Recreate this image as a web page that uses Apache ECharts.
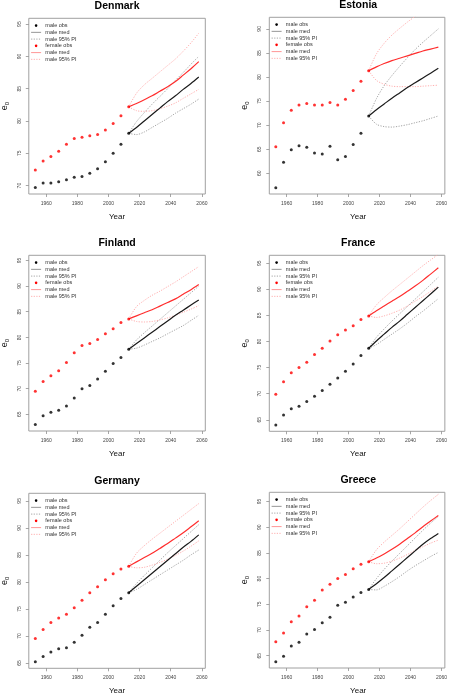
<!DOCTYPE html>
<html><head><meta charset="utf-8">
<script src="https://cdn.jsdelivr.net/npm/echarts@6/dist/echarts.min.js"></script>
<style>html,body{margin:0;padding:0;background:#fff}#c{width:450px;height:696px}</style>
</head><body><div id="c"></div>
<script>
// ---------- DATA ----------
const countries = ['Denmark', 'Estonia', 'Finland', 'France', 'Germany', 'Greece'];
const obsYears = [1953, 1958, 1963, 1968, 1973, 1978, 1983, 1988, 1993, 1998, 2003, 2008, 2013];
const projYears = [2013, 2018, 2023, 2028, 2033, 2038, 2043, 2048, 2053, 2058];
const xTicks = [1960, 1980, 2000, 2020, 2040, 2060];
const yTicksDenmark = [70, 75, 80, 85, 90, 95];
const yTicksEstonia = [60, 65, 70, 75, 80, 85, 90];
const yTicksOther = [65, 70, 75, 80, 85, 90, 95];
const legendLabels = ['male obs', 'male med', 'male 95% PI', 'female obs', 'male med', 'male 95% PI'];

// Denmark
const denmarkMaleObs   = [69.7, 70.4, 70.4, 70.6, 70.9, 71.3, 71.4, 71.9, 72.6, 73.7, 75.0, 76.4, 78.1];
const denmarkFemaleObs = [72.4, 73.8, 74.5, 75.3, 76.4, 77.3, 77.5, 77.7, 77.9, 78.6, 79.6, 80.8, 82.2];
const denmarkMaleMed   = [78.1, 79.0, 80.0, 81.0, 82.0, 83.0, 83.9, 84.9, 85.8, 86.8];
const denmarkMaleHi    = [78.1, 79.9, 81.3, 82.6, 83.8, 85.0, 86.3, 87.5, 88.8, 90.0];
const denmarkMaleLo    = [78.1, 77.9, 78.3, 79.0, 79.7, 80.4, 81.2, 81.9, 82.6, 83.4];
const denmarkFemaleMed = [82.2, 82.7, 83.3, 83.9, 84.6, 85.3, 86.1, 87.1, 88.1, 89.2];
const denmarkFemaleHi  = [82.2, 84.3, 85.6, 86.6, 87.6, 88.6, 89.6, 90.8, 92.1, 93.6];
const denmarkFemaleLo  = [82.2, 81.6, 81.5, 81.6, 81.9, 82.3, 82.8, 83.5, 84.2, 84.9];

// Estonia
const estoniaMaleObs   = [57.0, 62.3, 64.9, 65.7, 65.4, 64.2, 64.0, 65.6, 62.8, 63.5, 66.0, 68.3, 71.9];
const estoniaFemaleObs = [65.5, 70.5, 73.1, 74.2, 74.5, 74.2, 74.2, 74.7, 74.2, 75.4, 77.2, 79.1, 81.3];
const estoniaMaleMed   = [71.9, 73.2, 74.4, 75.6, 76.7, 77.8, 78.8, 79.8, 80.8, 81.8];
const estoniaMaleHi    = [71.9, 75.5, 78.2, 80.3, 82.2, 84.0, 85.7, 87.2, 88.6, 90.0];
const estoniaMaleLo    = [71.9, 70.2, 69.7, 69.6, 69.8, 70.1, 70.5, 70.9, 71.4, 71.9];
const estoniaFemaleMed = [81.3, 82.1, 82.8, 83.4, 83.9, 84.4, 84.9, 85.4, 85.8, 86.2];
const estoniaFemaleHi  = [81.3, 84.8, 87.0, 88.7, 90.1, 91.4, 92.6, 93.8, 94.9, 96.0];
const estoniaFemaleLo  = [81.3, 79.3, 78.5, 78.1, 78.0, 78.0, 78.0, 78.1, 78.2, 78.3];

// Finland
const finlandMaleObs   = [63.0, 64.7, 65.4, 65.8, 66.6, 68.2, 70.0, 70.6, 71.9, 73.4, 74.9, 76.1, 77.7];
const finlandFemaleObs = [69.5, 71.4, 72.5, 73.5, 75.1, 77.0, 78.4, 78.8, 79.6, 80.7, 81.7, 82.9, 83.6];
const finlandMaleMed   = [77.7, 78.8, 79.9, 81.0, 82.1, 83.2, 84.3, 85.3, 86.3, 87.3];
const finlandMaleHi    = [77.7, 79.5, 80.9, 82.2, 83.5, 84.8, 86.1, 87.4, 88.7, 90.0];
const finlandMaleLo    = [77.7, 77.9, 78.5, 79.2, 79.9, 80.7, 81.5, 82.3, 83.3, 84.3];
const finlandFemaleMed = [83.6, 84.2, 84.8, 85.4, 86.1, 86.8, 87.5, 88.4, 89.3, 90.3];
const finlandFemaleHi  = [83.6, 86.0, 87.2, 88.2, 89.0, 89.9, 90.8, 91.8, 92.8, 93.8];
const finlandFemaleLo  = [83.6, 83.1, 83.0, 83.1, 83.4, 83.8, 84.3, 84.9, 85.5, 86.2];

// France
const franceMaleObs   = [64.0, 65.9, 67.1, 67.6, 68.5, 69.5, 70.6, 71.8, 73.0, 74.3, 75.7, 77.3, 78.7];
const franceFemaleObs = [69.9, 72.3, 74.0, 75.0, 76.0, 77.5, 78.7, 80.1, 81.3, 82.2, 83.0, 84.2, 84.9];
const franceMaleMed   = [78.7, 80.1, 81.4, 82.7, 83.9, 85.2, 86.5, 87.8, 89.1, 90.4];
const franceMaleHi    = [78.7, 80.8, 82.4, 83.9, 85.3, 86.7, 88.1, 89.5, 90.9, 92.3];
const franceMaleLo    = [78.7, 79.4, 80.4, 81.4, 82.4, 83.5, 84.7, 85.8, 87.0, 88.2];
const franceFemaleMed = [84.9, 85.9, 86.8, 87.7, 88.6, 89.6, 90.6, 91.7, 92.9, 94.1];
const franceFemaleHi  = [84.9, 87.0, 88.4, 89.7, 90.9, 92.1, 93.3, 94.5, 95.6, 96.7];
const franceFemaleLo  = [84.9, 84.6, 84.9, 85.4, 86.0, 86.8, 87.7, 88.6, 89.6, 90.6];

// Germany
const germanyMaleObs   = [65.2, 66.2, 67.0, 67.6, 67.8, 68.8, 70.1, 71.6, 72.5, 74.0, 75.6, 76.9, 78.0];
const germanyFemaleObs = [69.5, 71.2, 72.5, 73.3, 74.0, 75.2, 76.6, 78.0, 79.1, 80.4, 81.5, 82.4, 82.9];
const germanyMaleMed   = [78.0, 79.2, 80.4, 81.6, 82.8, 84.0, 85.2, 86.4, 87.5, 88.7];
const germanyMaleHi    = [78.0, 79.7, 81.2, 82.6, 84.0, 85.4, 86.7, 88.0, 89.3, 90.6];
const germanyMaleLo    = [78.0, 78.6, 79.5, 80.4, 81.3, 82.2, 83.1, 84.0, 85.0, 85.9];
const germanyFemaleMed = [82.9, 83.7, 84.5, 85.3, 86.2, 87.1, 88.1, 89.1, 90.2, 91.3];
const germanyFemaleHi  = [82.9, 85.3, 86.7, 87.9, 89.0, 90.1, 91.2, 92.3, 93.4, 94.5];
const germanyFemaleLo  = [82.9, 82.6, 82.7, 83.1, 83.6, 84.2, 84.9, 85.7, 86.6, 87.6];

// Greece
const greeceMaleObs   = [63.8, 64.9, 66.9, 67.6, 69.2, 70.1, 71.4, 72.5, 74.8, 75.4, 76.4, 77.3, 77.9];
const greeceFemaleObs = [67.7, 69.4, 71.6, 72.7, 74.5, 75.8, 77.8, 78.9, 80.0, 80.8, 81.9, 82.8, 83.3];
const greeceMaleMed   = [77.9, 79.0, 80.2, 81.5, 82.8, 84.1, 85.4, 86.7, 87.8, 88.8];
const greeceMaleHi    = [77.9, 80.0, 81.8, 83.4, 84.9, 86.4, 87.9, 89.4, 90.8, 92.1];
const greeceMaleLo    = [77.9, 77.8, 78.5, 79.4, 80.4, 81.5, 82.5, 83.4, 84.3, 85.1];
const greeceFemaleMed = [83.3, 84.0, 84.8, 85.7, 86.7, 87.8, 88.9, 90.1, 91.2, 92.3];
const greeceFemaleHi  = [83.3, 85.6, 87.1, 88.4, 89.7, 91.1, 92.5, 93.9, 95.2, 96.4];
const greeceFemaleLo  = [83.3, 82.9, 83.0, 83.4, 84.0, 84.7, 85.5, 86.2, 86.9, 87.5];

// ---------- BUILD ----------
const panelData = [
  {obsM: denmarkMaleObs, obsF: denmarkFemaleObs, mMed: denmarkMaleMed, mHi: denmarkMaleHi, mLo: denmarkMaleLo, fMed: denmarkFemaleMed, fHi: denmarkFemaleHi, fLo: denmarkFemaleLo, yTicks: yTicksDenmark},
  {obsM: estoniaMaleObs, obsF: estoniaFemaleObs, mMed: estoniaMaleMed, mHi: estoniaMaleHi, mLo: estoniaMaleLo, fMed: estoniaFemaleMed, fHi: estoniaFemaleHi, fLo: estoniaFemaleLo, yTicks: yTicksEstonia},
  {obsM: finlandMaleObs, obsF: finlandFemaleObs, mMed: finlandMaleMed, mHi: finlandMaleHi, mLo: finlandMaleLo, fMed: finlandFemaleMed, fHi: finlandFemaleHi, fLo: finlandFemaleLo, yTicks: yTicksOther},
  {obsM: franceMaleObs, obsF: franceFemaleObs, mMed: franceMaleMed, mHi: franceMaleHi, mLo: franceMaleLo, fMed: franceFemaleMed, fHi: franceFemaleHi, fLo: franceFemaleLo, yTicks: yTicksOther},
  {obsM: germanyMaleObs, obsF: germanyFemaleObs, mMed: germanyMaleMed, mHi: germanyMaleHi, mLo: germanyMaleLo, fMed: germanyFemaleMed, fHi: germanyFemaleHi, fLo: germanyFemaleLo, yTicks: yTicksOther},
  {obsM: greeceMaleObs, obsF: greeceFemaleObs, mMed: greeceMaleMed, mHi: greeceMaleHi, mLo: greeceMaleLo, fMed: greeceFemaleMed, fHi: greeceFemaleHi, fLo: greeceFemaleLo, yTicks: yTicksOther}
];

// layout (pixels) and axis ranges
const layout = [
  {left: 28.8, top: 18.3, width: 176.5, height: 175.7, ymin: 68.7, ymax: 95.9},
  {left: 269.3, top: 17.3, width: 177.8, height: 176.7, ymin: 55.7, ymax: 92.4},
  {left: 28.8, top: 255.3, width: 176.5, height: 175.7, ymin: 61.75, ymax: 96.0},
  {left: 269.3, top: 255.3, width: 177.8, height: 176.0, ymin: 62.8, ymax: 96.5},
  {left: 28.8, top: 493.3, width: 176.5, height: 175.0, ymin: 64.0, ymax: 96.4},
  {left: 269.3, top: 492.3, width: 177.8, height: 175.7, ymin: 62.6, ymax: 96.8}
];
const XMIN = 1948.8, XMAX = 2062.2;
const FONT = '"Liberation Sans", Arial, Helvetica, sans-serif';

const pair = (xs, ys) => ys.map((v, i) => [xs[i], v]);
const plain = v => String(Math.round(v));

const grids = [], xAxes = [], yAxes = [], series = [], graphics = [];
const COL = {
  mMed: '#1a1a1a', mPI: '#9a9a9a', fMed: '#ff2d2d', fPI: '#ffa6a6',
  legMed: '#8a8a8a', legFMed: '#ff8a8a'
};

layout.forEach((p, i) => {
  const d = panelData[i];
  grids.push({left: p.left, top: p.top, width: p.width, height: p.height,
    show: true, borderColor: '#a0a0a0', borderWidth: 1, backgroundColor: 'transparent'});
  xAxes.push({type: 'value', gridIndex: i, min: XMIN, max: XMAX,
    axisLine: {show: false}, splitLine: {show: false},
    axisTick: {show: true, length: 3, customValues: xTicks, lineStyle: {color: '#909090', width: 0.8}},
    axisLabel: {customValues: xTicks, formatter: plain, fontSize: 5, color: '#444', margin: 7, fontFamily: FONT}});
  yAxes.push({type: 'value', gridIndex: i, min: p.ymin, max: p.ymax,
    axisLine: {show: false}, splitLine: {show: false},
    axisTick: {show: true, length: 3, customValues: d.yTicks, lineStyle: {color: '#909090', width: 0.8}},
    axisLabel: {customValues: d.yTicks, formatter: plain, rotate: 90, fontSize: 5, color: '#444', margin: 7, fontFamily: FONT}});

  const lineS = (data, color, width, type, z) => ({
    type: 'line', xAxisIndex: i, yAxisIndex: i, data: pair(projYears, data),
    symbol: 'none', smooth: 0.3, clip: true, silent: true, z: z,
    lineStyle: {color: color, width: width, type: type}
  });
  series.push(lineS(d.mHi, COL.mPI, 0.9, [1.2, 1.4], 2));
  series.push(lineS(d.mLo, COL.mPI, 0.9, [1.2, 1.4], 2));
  series.push(lineS(d.fHi, COL.fPI, 0.9, [1.2, 1.4], 2));
  series.push(lineS(d.fLo, COL.fPI, 0.9, [1.2, 1.4], 2));
  series.push(lineS(d.mMed, COL.mMed, 1.2, 'solid', 3));
  series.push(lineS(d.fMed, COL.fMed, 1.2, 'solid', 3));
  series.push({type: 'scatter', xAxisIndex: i, yAxisIndex: i, data: pair(obsYears, d.obsM),
    symbol: 'circle', symbolSize: 3, itemStyle: {color: '#000'}, silent: true, z: 4});
  series.push({type: 'scatter', xAxisIndex: i, yAxisIndex: i, data: pair(obsYears, d.obsF),
    symbol: 'circle', symbolSize: 3, itemStyle: {color: '#ff0000'}, silent: true, z: 4});

  // title
  graphics.push({type: 'text', x: p.left + p.width / 2, y: p.top - 12.3, silent: true,
    style: {text: countries[i], fontSize: 10.5, fontWeight: 'bold', fontFamily: FONT, fill: '#000',
      align: 'center', verticalAlign: 'middle'}});
  // x label
  graphics.push({type: 'text', x: p.left + p.width / 2, y: p.top + p.height + 22.5, silent: true,
    style: {text: 'Year', fontSize: 8, fontFamily: FONT, fill: '#111', align: 'center', verticalAlign: 'middle'}});
  // y label e0
  graphics.push({type: 'text', x: p.left - 24.3, y: p.top + p.height / 2, rotation: Math.PI / 2, silent: true,
    style: {text: '{e|e}{s|0}', fontFamily: FONT, fill: '#111', align: 'center', verticalAlign: 'middle',
      rich: {e: {fontSize: 9, lineHeight: 11, fontFamily: FONT, fill: '#111'},
             s: {fontSize: 6, lineHeight: 6, verticalAlign: 'bottom', fontFamily: FONT, fill: '#111'}}}});
  // legend
  const kinds = [
    {k: 'dot', c: '#000'}, {k: 'line', c: COL.legMed, dash: null}, {k: 'line', c: COL.mPI, dash: [1.2, 1.4]},
    {k: 'dot', c: '#ff0000'}, {k: 'line', c: COL.legFMed, dash: null}, {k: 'line', c: COL.fPI, dash: [1.2, 1.4]}
  ];
  kinds.forEach((it, r) => {
    const cy = p.top + 7.3 + r * 6.75;
    if (it.k === 'dot') {
      graphics.push({type: 'circle', silent: true, shape: {cx: p.left + 7.3, cy: cy, r: 1.3}, style: {fill: it.c}});
    } else {
      graphics.push({type: 'line', silent: true, shape: {x1: p.left + 2.3, y1: cy, x2: p.left + 12.3, y2: cy},
        style: {stroke: it.c, lineWidth: 0.9, lineDash: it.dash}});
    }
    graphics.push({type: 'text', silent: true, x: p.left + 16.5, y: cy,
      style: {text: legendLabels[r], fontSize: 5.5, fontFamily: FONT, fill: '#333', align: 'left', verticalAlign: 'middle'}});
  });
});

const chart = echarts.init(document.getElementById('c'), null, {renderer: 'canvas'});
chart.setOption({
  animation: false,
  backgroundColor: '#fff',
  grid: grids, xAxis: xAxes, yAxis: yAxes, series: series,
  graphic: {elements: graphics}
});
</script></body></html>
